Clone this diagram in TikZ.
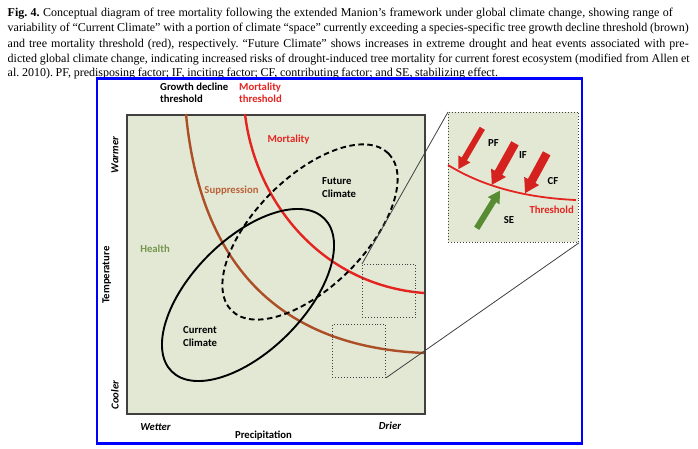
\documentclass[tikz,border=0pt]{standalone}
\usepackage{fontspec}
\setmainfont{Liberation Serif}[WordSpace={0.9,1,1.6}]
\newfontfamily\lbl{Carlito}
\usetikzlibrary{arrows.meta,shapes.geometric}
\definecolor{plotbg}{RGB}{226,232,212}
\definecolor{brownc}{RGB}{172,78,38}
\definecolor{suppc}{RGB}{188,98,56}
\definecolor{redc}{RGB}{228,36,32}
\definecolor{arrowred}{RGB}{214,34,30}
\definecolor{arrowgreen}{RGB}{88,140,50}
\definecolor{healthc}{RGB}{118,150,78}
\definecolor{framec}{RGB}{0,0,255}
\definecolor{edgec}{RGB}{64,64,64}
\frenchspacing
\begin{document}
\begin{tikzpicture}[x=1pt,y=-1pt,
  captxt/.style={anchor=base west, inner sep=0, font=\fontsize{12.0}{14}\selectfont},
  lab/.style={inner sep=0, font=\lbl\bfseries\fontsize{10.7}{12.4}\selectfont},
  ilab/.style={inner sep=0, font=\lbl\bfseries\itshape\fontsize{10.7}{12.4}\selectfont},
  thr/.style={line width=2.4pt},
  clim/.style={draw, ellipse, line width=1.9pt, inner sep=0, rotate=45},
  sq/.style={draw=edgec, dotted, line width=0.9pt, minimum width=53pt, minimum height=53pt, inner sep=0, anchor=north west},
  zoomline/.style={draw=edgec, line width=0.8pt},
  bigarrow/.style={line width=8.5pt, -{Triangle[width=16pt,length=14pt]}},
  smallarrow/.style={line width=6pt, -{Triangle[width=13pt,length=12pt]}}
]
\useasboundingbox (0,0) rectangle (698,449);
\fill[white] (0,0) rectangle (698,449);

% caption
\node[captxt] (c1) at (7.5,16.5) {\makebox[665pt][s]{\textbf{Fig. 4.} Conceptual diagram of tree mortality following the extended Manion’s framework under global climate change, showing range of}};
\node[captxt] (c2) at (7.5,32) {\makebox[681pt][s]{variability of “Current Climate” with a portion of climate “space” currently exceeding a species-specific tree growth decline threshold (brown)}};
\node[captxt] (c3) at (7.5,47.5) {\makebox[681pt][s]{and tree mortality threshold (red), respectively. “Future Climate” shows increases in extreme drought and heat events associated with pre-}};
\node[captxt] (c4) at (7.5,62.5) {\makebox[682pt][s]{dicted global climate change, indicating increased risks of drought-induced tree mortality for current forest ecosystem (modified from Allen et}};
\node[captxt] (c5) at (7.5,76.5) {al. 2010). PF, predisposing factor; IF, inciting factor; CF, contributing factor; and SE, stabilizing effect.};

% blue frame
\draw[framec, line width=2.6pt] (97,78.5) rectangle (582,443.5);

% plot area
\node[draw=edgec, line width=1.8pt, fill=plotbg, minimum width=298pt, minimum height=299pt, inner sep=0, anchor=north west] (plot) at (125.7,114) {};

% thresholds
\draw[brownc, thr] (186,114) .. controls (198,240) and (258,346) .. (424,353);
\draw[redc, thr] (245,114) .. controls (255,200) and (320,285) .. (424,293);

% climate ellipses
\node[clim, minimum width=216pt, minimum height=112pt] (cur) at (248,295) {};
\node[clim, dash pattern=on 5.5pt off 3.5pt, minimum width=222pt, minimum height=110pt] (fut) at (310,232) {};

% zoom squares
\node[sq] (sq1) at (362,264) {};
\node[sq] (sq2) at (332,324) {};

% inset
\node[draw=edgec, dotted, line width=0.9pt, fill=plotbg, minimum width=130pt, minimum height=130pt, inner sep=0, anchor=north west] (inset) at (448,112) {};
\draw[zoomline] (sq1.north west) -- (inset.north west);
\draw[zoomline] (sq2.south east) -- (inset.south east);

\draw[redc, line width=1.8pt] (inset.west |- 0,165) .. controls (485,188) and (530,198) .. (576,200);
\coordinate (pfs) at (482.3,128.3); \coordinate (pfe) at (458.3,169.3);
\coordinate (ifs) at (515,143.3); \coordinate (ife) at (491.7,185);
\coordinate (cfs) at (546.7,153.3); \coordinate (cfe) at (525,193.3);
\coordinate (ses) at (476.7,228.3); \coordinate (see) at (500,190.5);
\draw[arrowred, smallarrow] (pfs) -- (pfe);
\draw[arrowred, bigarrow] (ifs) -- (ife);
\draw[arrowred, bigarrow] (cfs) -- (cfe);
\draw[arrowgreen, smallarrow] (ses) -- (see);
\node[lab] (pf) at (493.5,142.7) {PF};
\node[lab] (if) at (523,155) {IF};
\node[lab] (cf) at (553,180.7) {CF};
\node[lab] (se) at (509,220) {SE};
\node[lab, text=redc] (thl) at (551.7,209.3) {Threshold};

% labels
\node[lab, anchor=west, align=left] (gdt) at (160,93) {Growth decline\\threshold};
\node[lab, anchor=west, align=left, text=redc] (mt) at (239,93) {Mortality\\threshold};
\node[lab, text=redc] (mort) at (288.5,140) {Mortality};
\node[lab, text=suppc] (supp) at (231.5,191) {Suppression};
\node[lab, anchor=west, align=left] (futl) at (322,187.5) {Future\\Climate};
\node[lab, text=healthc] (health) at (155,249) {Health};
\node[lab, anchor=west, align=left] (curl) at (183,336.5) {Current\\Climate};

% axes
\node[ilab, rotate=90] (warm) at (115,155) {Warmer};
\node[lab, rotate=90] (temp) at (106.7,275) {Temperature};
\node[ilab, rotate=90] (cool) at (115,395) {Cooler};
\node[ilab] (wet) at (155.5,427) {Wetter};
\node[ilab] (dry) at (390,426) {Drier};
\node[lab] (prec) at (263.5,436) {Precipitation};
\end{tikzpicture}
\end{document}
